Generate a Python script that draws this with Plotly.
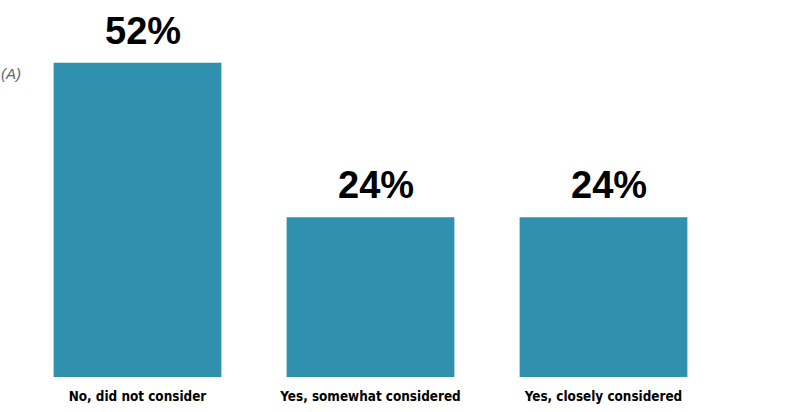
import plotly.graph_objects as go

categories = ["No, did not consider", "Yes, somewhat considered", "Yes, closely considered"]
shares = [52, 24, 24]
axis_floor = -5  # the reference's value axis does not start at zero

fig = go.Figure()
fig.add_trace(go.Bar(
    x=categories,
    y=[v - axis_floor for v in shares],
    base=axis_floor,
    marker=dict(color="#2F91AD", line=dict(width=0)),
    width=0.72,
    hoverinfo="skip",
))

for c, v in zip(categories, shares):
    fig.add_annotation(
        x=c, y=v, xref="x", yref="y", text=f"{v}%", showarrow=False,
        yanchor="bottom", yshift=9, xshift=5,
        font=dict(family="Liberation Sans", size=38, color="#000000", weight="bold"),
    )

fig.add_annotation(
    x=0, y=63.4 - 73 / 5.51, xref="paper", yref="y", text="<i>(A)</i>", showarrow=False,
    xanchor="left", xshift=-22, yanchor="middle",
    font=dict(family="Liberation Sans", size=15, color="#666666"),
)

fig.update_layout(
    width=807, height=412,
    margin=dict(l=20.5, r=87, t=0, b=35),
    paper_bgcolor="white", plot_bgcolor="white",
    showlegend=False,
    bargap=0.28,
    xaxis=dict(
        showgrid=False, zeroline=False, showline=False,
        range=[-0.5, 2.5],
        ticks="", ticklabelstandoff=10,
        tickfont=dict(family="DejaVu Sans Condensed", size=13.4, color="#000000", weight="bold"),
    ),
    yaxis=dict(
        range=[axis_floor, 63.4],
        showgrid=False, zeroline=False, showline=False, showticklabels=False,
    ),
)

fig.write_html("out.html", config={"displayModeBar": False},
               post_script="document.body.style.margin='0';")
